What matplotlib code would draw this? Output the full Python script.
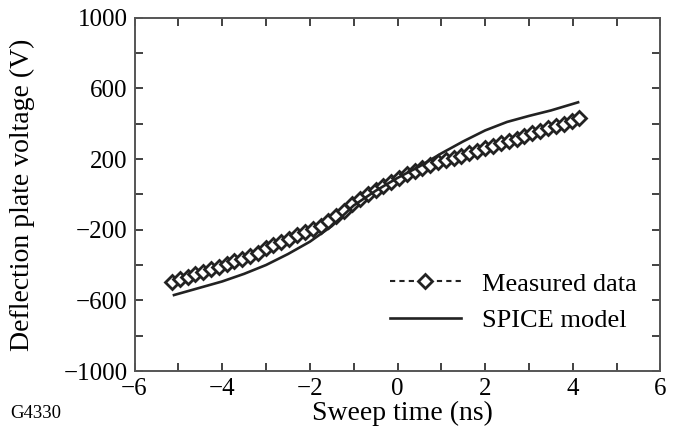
import matplotlib
matplotlib.use("Agg")
import matplotlib.pyplot as plt
from matplotlib.ticker import FixedLocator

plt.rcParams['font.family'] = ['Liberation Serif', 'DejaVu Serif']

# Measured data (ns, V)
meas_t = [-5.15, -4.97, -4.79, -4.61, -4.44, -4.26, -4.08, -3.90, -3.72, -3.54,
          -3.36, -3.18, -3.00, -2.83, -2.65, -2.47, -2.29, -2.11, -1.93, -1.75,
          -1.58, -1.40, -1.22, -1.04, -0.86, -0.68, -0.50, -0.32, -0.15, 0.03,
          0.21, 0.39, 0.57, 0.75, 0.93, 1.11, 1.29, 1.46, 1.64, 1.82,
          2.00, 2.18, 2.36, 2.54, 2.72, 2.89, 3.07, 3.25, 3.43, 3.61,
          3.79, 3.97, 4.15]
meas_v = [-495, -480, -466, -451, -437, -424, -410, -395, -380, -365,
          -349, -332, -303, -287, -269, -250, -231, -213, -196, -177,
          -152, -122, -92, -56, -28, 0, 24, 50, 70, 94,
          113, 133, 152, 167, 182, 194, 206, 218, 232, 246,
          260, 274, 288, 302, 316, 330, 345, 359, 373, 388,
          401, 416, 430]

# SPICE model (ns, V)
spice_t = [-5.1, -4.5, -4.0, -3.5, -3.0, -2.5, -2.0, -1.5, -1.0, -0.5,
           0.0, 0.5, 1.0, 1.5, 2.0, 2.5, 3.0, 3.5, 4.12]
spice_v = [-570, -528, -493, -450, -400, -338, -268, -180, -63, 20,
           93, 158, 232, 300, 362, 410, 444, 475, 521]

x_major = [-6, -4, -2, 0, 2, 4, 6]
x_minor = [-5, -3, -1, 1, 3, 5]
y_major = [-1000, -600, -200, 200, 600, 1000]
y_minor = [-800, -400, 0, 400, 800]

fig = plt.figure(figsize=(6.77, 4.47), dpi=100)
ax = fig.add_axes([0.1987, 0.170, 0.7769, 0.7904])

ax.plot(meas_t, meas_v, ls=(0, (2.5, 2)), color='#222222', lw=1.5,
        marker='D', markersize=6.8, markerfacecolor='white',
        markeredgecolor='#222222', markeredgewidth=2.0, label='Measured data')
ax.plot(spice_t, spice_v, ls='-', color='#222222', lw=1.9, label='SPICE model')

ax.set_xlim(-6, 6)
ax.set_ylim(-1000, 1000)
ax.xaxis.set_major_locator(FixedLocator(x_major))
ax.xaxis.set_minor_locator(FixedLocator(x_minor))
ax.yaxis.set_major_locator(FixedLocator(y_major))
ax.yaxis.set_minor_locator(FixedLocator(y_minor))
ax.tick_params(which='both', direction='in', top=True, right=True,
               length=6, width=1.3, color='#333333', labelsize=18, pad=5)

for s in ax.spines.values():
    s.set_linewidth(1.4)
    s.set_color('#555555')

ax.set_xlabel('Sweep time (ns)', fontsize=20)
ax.set_ylabel('Deflection plate voltage (V)', fontsize=20)
ax.xaxis.set_label_coords(0.51, -0.085)
ax.yaxis.set_label_coords(-0.189, 0.5)

leg = ax.legend(loc='upper left', bbox_to_anchor=(0.465, 0.31), frameon=False,
                fontsize=19, handlelength=2.7, handletextpad=0.8,
                labelspacing=0.5, borderaxespad=0)

fig.text(0.015, 0.065, 'G4330', fontsize=13.5)

fig.savefig('out.png', dpi=100)
